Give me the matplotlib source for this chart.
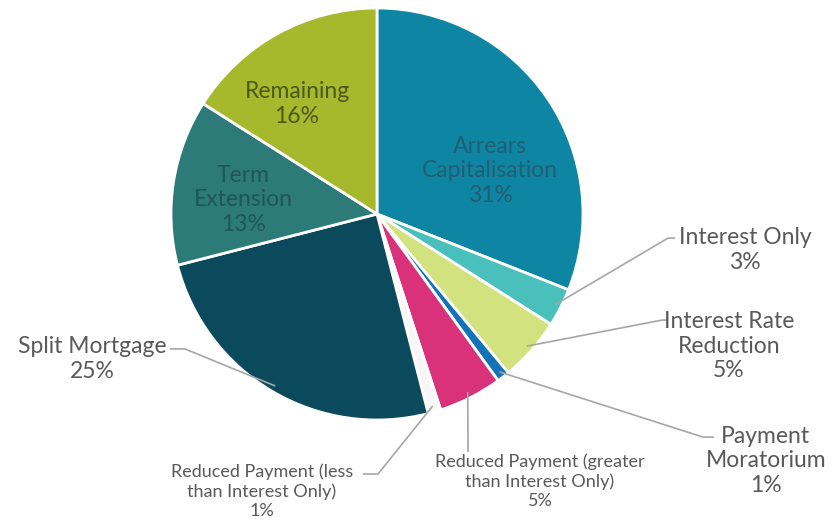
import numpy as np
import matplotlib.pyplot as plt

plt.rcParams['font.family'] = ['Lato', 'DejaVu Sans']

# slices, clockwise from 12 o'clock
labels = ['Arrears\nCapitalisation', 'Interest Only', 'Interest Rate\nReduction',
          'Payment\nMoratorium', 'Reduced Payment (greater\nthan Interest Only)',
          'Reduced Payment (less\nthan Interest Only)', 'Split Mortgage',
          'Term\nExtension', 'Remaining']
values = [31, 3, 5, 1, 5, 1, 25, 13, 16]
colors = ['#0e86a3', '#49c0bb', '#d1e27e', '#1273b8', '#d9317a',
          '#f7f7f7', '#0b4a5c', '#2d7b79', '#a6b82c']

# label layout: (text x, text y, elbow, line end, fontsize, color); elbow None = label inside
layout = {
    'Arrears\nCapitalisation': ((0.549, 0.209), None, None, 16.5, '#235d72'),
    'Remaining': ((-0.388, 0.534), None, None, 16.5, '#4b5a1c'),
    'Term\nExtension': ((-0.650, 0.068), None, None, 16.5, '#1f5557'),
    'Interest Only': ((1.786, -0.175), (1.413, -0.117), (1.447, -0.117), 16.5, '#595959'),
    'Interest Rate\nReduction': ((1.709, -0.641), (1.383, -0.515), (1.413, -0.515), 16.5, '#595959'),
    'Payment\nMoratorium': ((1.888, -1.199), (1.583, -1.083), (1.635, -1.083), 16.5, '#595959'),
    'Reduced Payment (greater\nthan Interest Only)': ((0.791, -1.296), (0.442, -1.155), (0.442, -1.155), 13, '#595959'),
    'Reduced Payment (less\nthan Interest Only)': ((-0.558, -1.345), (0.005, -1.262), (-0.068, -1.262), 13, '#595959'),
    'Split Mortgage': ((-1.383, -0.704), (-0.932, -0.655), (-1.005, -0.655), 16.5, '#595959'),
}

fig = plt.figure(figsize=(8.32, 5.24), dpi=100)
ax = fig.add_axes([0, 0, 1, 1])
ax.pie(values, colors=colors, startangle=90, counterclock=False, radius=1,
       wedgeprops=dict(edgecolor='white', linewidth=2))

cum = np.cumsum([0] + values[:-1])
for lab, v, c in zip(labels, values, cum):
    (tx, ty), elbow, end, fs, tc = layout[lab]
    ax.text(tx, ty, f'{lab}\n{v}%', ha='center', va='center', fontsize=fs,
            color=tc, linespacing=1.2 if fs > 14 else 1.25)
    if elbow is not None:
        ang = np.deg2rad(90 - 360 * (c + v / 2) / 100)
        r = 0.97
        xs = [r * np.cos(ang), elbow[0], end[0]]
        ys = [r * np.sin(ang), elbow[1], end[1]]
        ax.plot(xs, ys, color='#a6a6a6', lw=1.2, solid_capstyle='butt')

ax.set_xlim(-377 / 206, (832 - 377) / 206)
ax.set_ylim(-(524 - 214) / 206, 214 / 206)
ax.set_aspect('equal')
ax.axis('off')
fig.savefig('out.png', dpi=100)
